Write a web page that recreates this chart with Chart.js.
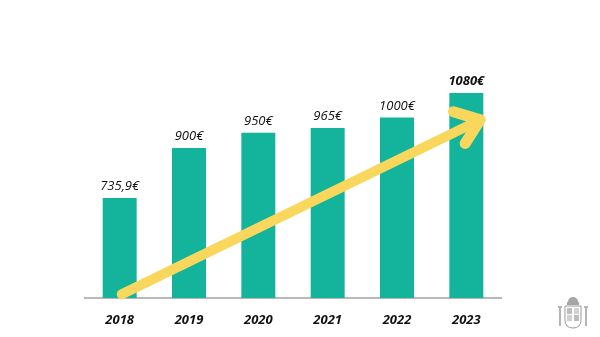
<!DOCTYPE html>
<html>
<head>
<meta charset="utf-8">
<script src="https://cdn.jsdelivr.net/npm/chart.js@4/dist/chart.umd.min.js"></script>
<style>
  html, body { margin: 0; padding: 0; background: #ffffff; }
  #wrap { width: 600px; height: 337px; position: relative; }
</style>
</head>
<body>
<div id="wrap"><canvas id="salaryChart"></canvas></div>
<script>
// Data
const years = ["2018", "2019", "2020", "2021", "2022", "2023"];
const amounts = [735.9, 900, 950, 965, 1000, 1080];
const amountLabels = ["735,9€", "900€", "950€", "965€", "1000€", "1080€"];
// trend arrow, in data units (category index, value)
const arrowFrom = [0.03, 420];
const arrowTo = [5.2, 992];

const teal = "#14b39b";
const yellow = "#f9d75c";

// value labels above each bar
const valueLabels = {
  id: "valueLabels",
  afterDatasetsDraw(chart) {
    const ctx = chart.ctx;
    const bars = chart.getDatasetMeta(0).data;
    ctx.save();
    ctx.textAlign = "center";
    ctx.textBaseline = "bottom";
    ctx.fillStyle = "#111111";
    bars.forEach((bar, i) => {
      const last = i === bars.length - 1;
      ctx.font = (last ? "italic bold " : "italic ") + "13px 'Open Sans'";
      ctx.fillText(amountLabels[i], bar.x, bar.y - 5);
    });
    ctx.restore();
  },
};

// yellow trend arrow
const trendArrow = {
  id: "trendArrow",
  afterDatasetsDraw(chart) {
    const { ctx, scales } = chart;
    const x1 = scales.x.getPixelForValue(arrowFrom[0]);
    const y1 = scales.y.getPixelForValue(arrowFrom[1]);
    const x2 = scales.x.getPixelForValue(arrowTo[0]);
    const y2 = scales.y.getPixelForValue(arrowTo[1]);
    const ang = Math.atan2(y2 - y1, x2 - x1);
    const head = 28;
    ctx.save();
    ctx.strokeStyle = yellow;
    ctx.lineWidth = 10;
    ctx.lineCap = "round";
    ctx.lineJoin = "round";
    ctx.beginPath();
    ctx.moveTo(x1, y1);
    ctx.lineTo(x2 - 4 * Math.cos(ang), y2 - 4 * Math.sin(ang));
    ctx.stroke();
    ctx.lineWidth = 11;
    ctx.beginPath();
    ctx.moveTo(x2 + head * Math.cos(ang + Math.PI - 0.55), y2 + head * Math.sin(ang + Math.PI - 0.55));
    ctx.lineTo(x2, y2);
    ctx.lineTo(x2 + head * Math.cos(ang + Math.PI + 0.75), y2 + head * Math.sin(ang + Math.PI + 0.75));
    ctx.stroke();
    ctx.restore();
  },
};

// small grey emblem, bottom right
const emblem = {
  id: "emblem",
  afterDraw(chart) {
    const ctx = chart.ctx;
    const cx = 573, cy = 314;
    ctx.save();
    ctx.fillStyle = "#a5a5a5";
    ctx.strokeStyle = "#9a9a9a";
    ctx.lineWidth = 1;
    // crown
    ctx.beginPath();
    ctx.arc(cx, cy - 12, 5, Math.PI, 0);
    ctx.fill();
    ctx.fillRect(cx - 6, cy - 12, 12, 3);
    // shield
    ctx.beginPath();
    ctx.moveTo(cx - 8, cy - 8);
    ctx.lineTo(cx + 8, cy - 8);
    ctx.lineTo(cx + 8, cy + 6);
    ctx.quadraticCurveTo(cx + 8, cy + 14, cx, cy + 14);
    ctx.quadraticCurveTo(cx - 8, cy + 14, cx - 8, cy + 6);
    ctx.closePath();
    ctx.stroke();
    ctx.fillStyle = "#bdbdbd";
    ctx.fillRect(cx - 6, cy - 6, 5, 6);
    ctx.fillRect(cx + 1, cy + 1, 5, 6);
    ctx.fillStyle = "#d2d2d2";
    ctx.fillRect(cx + 1, cy - 6, 5, 6);
    ctx.fillRect(cx - 6, cy + 1, 5, 6);
    // pillars
    ctx.fillStyle = "#b5b5b5";
    ctx.fillRect(cx - 14, cy - 6, 2, 18);
    ctx.fillRect(cx + 12, cy - 6, 2, 18);
    ctx.fillRect(cx - 15, cy - 8, 4, 2);
    ctx.fillRect(cx + 11, cy - 8, 4, 2);
    ctx.restore();
  },
};

const ctx = document.getElementById("salaryChart").getContext("2d");
const salaryChart = new Chart(ctx, {
  type: "bar",
  data: {
    labels: years,
    datasets: [
      {
        data: amounts,
        backgroundColor: teal,
        barPercentage: 0.7,
        categoryPercentage: 0.7,
      },
    ],
  },
  options: {
    responsive: true,
    maintainAspectRatio: false,
    animation: false,
    layout: {
      padding: { left: 85, right: 99, top: 0, bottom: 0 },
    },
    plugins: {
      legend: { display: false },
      tooltip: { enabled: false },
    },
    scales: {
      y: {
        display: false,
        min: 408,
        max: 1385,
      },
      x: {
        grid: { display: false },
        border: { display: true, color: "#b9b9b9", width: 2 },
        ticks: {
          color: "#111111",
          padding: 6,
          font: { family: "'Open Sans'", size: 13, style: "italic", weight: "bold" },
        },
        afterFit(scale) {
          scale.height = 39;
        },
      },
    },
  },
  plugins: [valueLabels, trendArrow, emblem],
});
</script>
</body>
</html>
